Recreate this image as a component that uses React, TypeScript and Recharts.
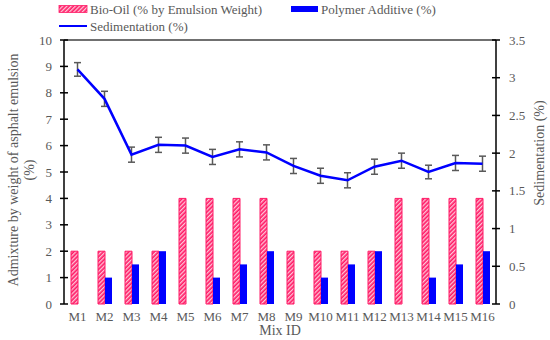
import React from 'react';
import { ComposedChart, Bar, Line, XAxis, YAxis, ErrorBar, ReferenceLine } from 'recharts';

const mixIds = ['M1', 'M2', 'M3', 'M4', 'M5', 'M6', 'M7', 'M8', 'M9', 'M10', 'M11', 'M12', 'M13', 'M14', 'M15', 'M16'];
const bioOil = [2, 2, 2, 2, 4, 4, 4, 4, 2, 2, 2, 2, 4, 4, 4, 4];
const polymer = [0, 1, 1.5, 2, 0, 1, 1.5, 2, 0, 1, 1.5, 2, 0, 1, 1.5, 2];
const sedimentation = [3.11, 2.72, 1.98, 2.11, 2.1, 1.95, 2.05, 2.01, 1.83, 1.7, 1.64, 1.82, 1.9, 1.75, 1.87, 1.86];
const sedError = [0.09, 0.1, 0.1, 0.1, 0.1, 0.1, 0.1, 0.1, 0.1, 0.1, 0.1, 0.1, 0.1, 0.09, 0.1, 0.1];
const leftTicks = [0, 1, 2, 3, 4, 5, 6, 7, 8, 9, 10];
const rightTicks = [0, 0.5, 1, 1.5, 2, 2.5, 3, 3.5];

const data = mixIds.map((id, i) => ({
  id,
  bio: bioOil[i],
  poly: polymer[i],
  sed: sedimentation[i],
  err: sedError[i],
}));

const PINK = '#FF1A66';
const BLUE = '#0000FF';
const TEXT = '#595959';
const FONT = 'Liberation Serif';

const LeftTick = (props: any) => {
  const { x, y, payload } = props;
  const ax = x + 10;
  return (
    <g>
      <line x1={ax - 4} x2={ax + 4} y1={y} y2={y} stroke="#000" strokeWidth={1.5} />
      <text x={x - 2} y={y} dy="0.35em" textAnchor="end" fill={TEXT} fontSize={13} fontFamily={FONT}>
        {payload.value}
      </text>
    </g>
  );
};

const RightTick = (props: any) => {
  const { x, y, payload } = props;
  const ax = x - 10;
  return (
    <g>
      <line x1={ax - 4} x2={ax + 4} y1={y} y2={y} stroke="#000" strokeWidth={1.5} />
      <text x={x + 3} y={y} dy="0.35em" textAnchor="start" fill={TEXT} fontSize={13} fontFamily={FONT}>
        {payload.value}
      </text>
    </g>
  );
};

const BottomTick = (props: any) => {
  const { x, y, payload } = props;
  return (
    <text x={x} y={y} dy="0.71em" textAnchor="middle" fill={TEXT} fontSize={13} fontFamily={FONT}>
      {payload.value}
    </text>
  );
};

export default function App() {
  return (
    <div style={{ position: 'fixed', left: 0, top: 0, width: 550, height: 340, background: '#fff' }}>
      <svg width={0} height={0} style={{ position: 'absolute' }}>
        <defs>
          <pattern id="bioHatch" patternUnits="userSpaceOnUse" width={3} height={3} patternTransform="rotate(45)">
            <rect x={0} y={0} width={3} height={3} fill={PINK} />
            <line x1={0.75} y1={0} x2={0.75} y2={3} stroke="#fff" strokeWidth={1} />
          </pattern>
        </defs>
      </svg>
      <ComposedChart
        width={550}
        height={340}
        data={data}
        margin={{ top: 40, right: 24, bottom: 16, left: 24 }}
        barSize={7}
        barGap={0}
      >
        <XAxis
          dataKey="id"
          height={20}
          axisLine={false}
          tickLine={false}
          tickSize={4}
          tickMargin={4}
          interval={0}
          tick={<BottomTick />}
        />
        <YAxis
          yAxisId="left"
          width={40}
          domain={[0, 10]}
          ticks={leftTicks}
          interval={0}
          axisLine={{ stroke: '#000', strokeWidth: 1.5 }}
          tickLine={false}
          tickSize={5}
          tickMargin={5}
          tick={<LeftTick />}
        />
        <YAxis
          yAxisId="right"
          orientation="right"
          width={30}
          domain={[0, 3.5]}
          ticks={rightTicks}
          interval={0}
          axisLine={{ stroke: '#000', strokeWidth: 1.5 }}
          tickLine={false}
          tickSize={5}
          tickMargin={5}
          tick={<RightTick />}
        />
        <ReferenceLine yAxisId="left" y={10} stroke="#404040" strokeWidth={1.5} />
        <Bar yAxisId="left" dataKey="bio" fill="url(#bioHatch)" stroke={PINK} strokeWidth={1} isAnimationActive={false} />
        <Bar yAxisId="left" dataKey="poly" fill={BLUE} isAnimationActive={false} />
        <Line
          yAxisId="right"
          dataKey="sed"
          stroke={BLUE}
          strokeWidth={2.5}
          dot={false}
          activeDot={false}
          isAnimationActive={false}
        >
          <ErrorBar dataKey="err" direction="y" width={3.5} stroke="#595959" strokeWidth={1.5} />
        </Line>
      </ComposedChart>
      <svg width={550} height={340} style={{ position: 'absolute', left: 0, top: 0, pointerEvents: 'none' }}>
        <rect x={59} y={5.5} width={28} height={7} fill="url(#bioHatch)" stroke={PINK} strokeWidth={0.8} />
        <text x={90} y={9} dy="0.35em" fill={TEXT} fontSize={13} fontFamily={FONT}>
          Bio-Oil (% by Emulsion Weight)
        </text>
        <rect x={291} y={6} width={27} height={6} fill={BLUE} />
        <text x={321} y={9} dy="0.35em" fill={TEXT} fontSize={13} fontFamily={FONT}>
          Polymer Additive (%)
        </text>
        <line x1={59} x2={87} y1={26} y2={26} stroke={BLUE} strokeWidth={2} />
        <text x={90} y={26} dy="0.35em" fill={TEXT} fontSize={13} fontFamily={FONT}>
          Sedimentation (%)
        </text>
        <text
          x={13}
          y={170}
          dy="0.35em"
          textAnchor="middle"
          transform="rotate(-90, 13, 170)"
          fill={TEXT}
          fontSize={14}
          fontFamily={FONT}
        >
          Admixture by weight of asphalt emulsion
        </text>
        <text
          x={29}
          y={170}
          dy="0.35em"
          textAnchor="middle"
          transform="rotate(-90, 29, 170)"
          fill={TEXT}
          fontSize={14}
          fontFamily={FONT}
        >
          (%)
        </text>
        <text
          x={539}
          y={153}
          dy="0.35em"
          textAnchor="middle"
          transform="rotate(-90, 539, 153)"
          fill={TEXT}
          fontSize={14}
          fontFamily={FONT}
        >
          Sedimentation (%)
        </text>
        <text x={280} y={330} dy="0.35em" textAnchor="middle" fill={TEXT} fontSize={14} fontFamily={FONT}>
          Mix ID
        </text>
      </svg>
    </div>
  );
}
